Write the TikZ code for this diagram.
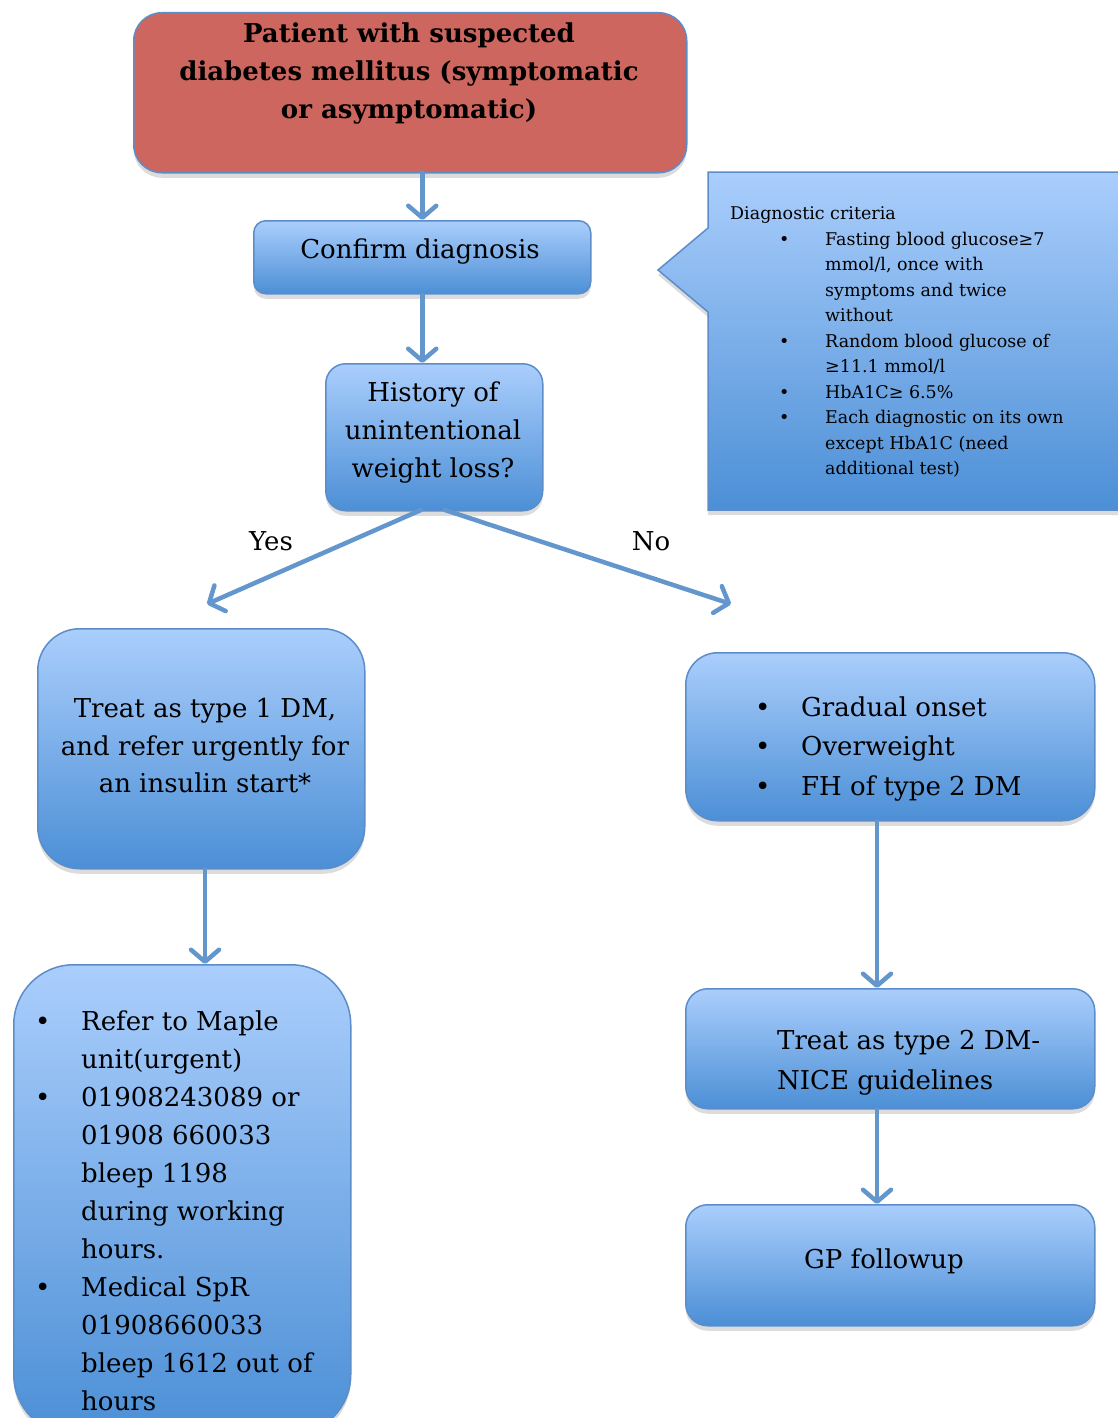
\documentclass[tikz,border=0pt]{standalone}
\usepackage{fontspec}
\setmainfont{DejaVu Serif}
\usetikzlibrary{arrows.meta,shadows}
\definecolor{bord}{RGB}{92,141,201}
\definecolor{topc}{RGB}{170,206,252}
\definecolor{botc}{RGB}{76,143,214}
\definecolor{redf}{RGB}{205,102,94}
\definecolor{arr}{RGB}{98,150,205}
\tikzset{
  shadowed/.style={drop shadow={opacity=0.28,shadow xshift=0pt,shadow yshift=-5pt}},
  bluebox/.style={draw=bord, line width=1.5pt, top color=topc, bottom color=botc, shadowed, inner sep=0pt, anchor=north west},
  redbox/.style={draw=bord, line width=1.5pt, fill=redf, shadowed, inner sep=0pt, anchor=north west},
  flow/.style={draw=arr, line width=4.5pt, line cap=round, -{Straight Barb[length=12pt,width=28pt,line width=4.5pt,round]}},
  body/.style={font=\fontsize{26}{38}\selectfont, inner sep=0pt, text=black},
  small/.style={font=\fontsize{17.5}{25.5}\selectfont, inner sep=0pt, text=black, align=left},
}
\newcommand{\bul}[1]{\makebox[#1][l]{•}}
\begin{document}
\begin{tikzpicture}[x=1pt,y=-1pt]
\useasboundingbox (0,0) rectangle (1118,1418);
% callout
\path[draw=bord, line width=1.5pt, top color=topc, bottom color=botc, shadowed]
  (708,172) -- (1130,172) -- (1130,510) -- (708,510) -- (708,312) -- (658,270) -- (708,228) -- cycle;
% boxes
\node[redbox, rounded corners=28pt, minimum width=553pt, minimum height=160pt] (top) at (133,12) {};
\node[bluebox, rounded corners=12pt, minimum width=337pt, minimum height=73pt] (confirm) at (253,220) {};
\node[bluebox, rounded corners=20pt, minimum width=217pt, minimum height=147pt] (hist) at (325,363) {};
\node[bluebox, rounded corners=42pt, minimum width=327pt, minimum height=240pt] (t1) at (37,628) {};
\node[bluebox, rounded corners=60pt, minimum width=337pt, minimum height=470pt] (refer) at (13,964) {};
\node[bluebox, rounded corners=32pt, minimum width=409pt, minimum height=168pt] (onset) at (685,652) {};
\node[bluebox, rounded corners=22pt, minimum width=409pt, minimum height=120pt] (t2) at (685,988) {};
\node[bluebox, rounded corners=22pt, minimum width=409pt, minimum height=121pt] (gp) at (685,1204) {};
% texts
\node[body, font=\fontsize{26}{38}\selectfont\bfseries, align=center] (toptxt) at (409,74)
  {Patient with suspected\\diabetes mellitus (symptomatic\\or asymptomatic)};
\node[body] (conftxt) at (420,252) {Confirm diagnosis};
\node[body, align=center] (histtxt) at (433,433) {History of\\unintentional\\weight loss?};
\node[body] (yes) at (271,541) {Yes};
\node[body] (no) at (651,541) {No};
\node[body, align=center, font=\fontsize{26}{37.5}\selectfont] (t1txt) at (205,746)
  {Treat as type 1 DM,\\and refer urgently for\\an insulin start*};
\node[body, align=left, anchor=west] (refertxt) at (35,1211)
  {\bul{46pt}Refer to Maple\\ \hspace*{46pt}unit(urgent)\\
   \bul{46pt}01908243089 or\\ \hspace*{46pt}01908 660033\\ \hspace*{46pt}bleep 1198\\
   \hspace*{46pt}during working\\ \hspace*{46pt}hours.\\
   \bul{46pt}Medical SpR\\ \hspace*{46pt}01908660033\\ \hspace*{46pt}bleep 1612 out of\\ \hspace*{46pt}hours};
\node[body, align=left, anchor=west, font=\fontsize{26}{39.5}\selectfont] (onsettxt) at (755,749)
  {\bul{46pt}Gradual onset\\ \bul{46pt}Overweight\\ \bul{46pt}FH of type 2 DM};
\node[body, align=left, anchor=west, font=\fontsize{26}{40}\selectfont] (t2txt) at (777,1063)
  {Treat as type 2 DM-\\NICE guidelines};
\node[body] (gptxt) at (884,1261) {GP followup};
\node[small, anchor=west] (crit) at (730,342)
  {Diagnostic criteria\\
   \hspace*{49pt}\bul{46pt}Fasting blood glucose≥7\\
   \hspace*{95pt}mmol/l, once with\\
   \hspace*{95pt}symptoms and twice\\
   \hspace*{95pt}without\\
   \hspace*{49pt}\bul{46pt}Random blood glucose of\\
   \hspace*{95pt}≥11.1 mmol/l\\
   \hspace*{49pt}\bul{46pt}HbA1C≥ 6.5\%\\
   \hspace*{49pt}\bul{46pt}Each diagnostic on its own\\
   \hspace*{95pt}except HbA1C (need\\
   \hspace*{95pt}additional test)};
% connectors
\coordinate (yesend) at (207,604);
\coordinate (noend) at (731,604);
\coordinate (ys) at (421,510);
\coordinate (ns) at (445,510);
\draw[flow] (top.south -| confirm.north) ++(0,-1) -- (confirm.north);
\draw[flow] (confirm.south) -- (confirm.south |- hist.north);
\draw[flow] (ys) -- (yesend);
\draw[flow] (ns) -- (noend);
\draw[flow] (t1.south -| 205,0) -- (refer.north -| 205,0);
\draw[flow] (onset.south -| 877,0) -- (t2.north -| 877,0);
\draw[flow] (t2.south -| 877,0) -- (gp.north -| 877,0);
\end{tikzpicture}
\end{document}
